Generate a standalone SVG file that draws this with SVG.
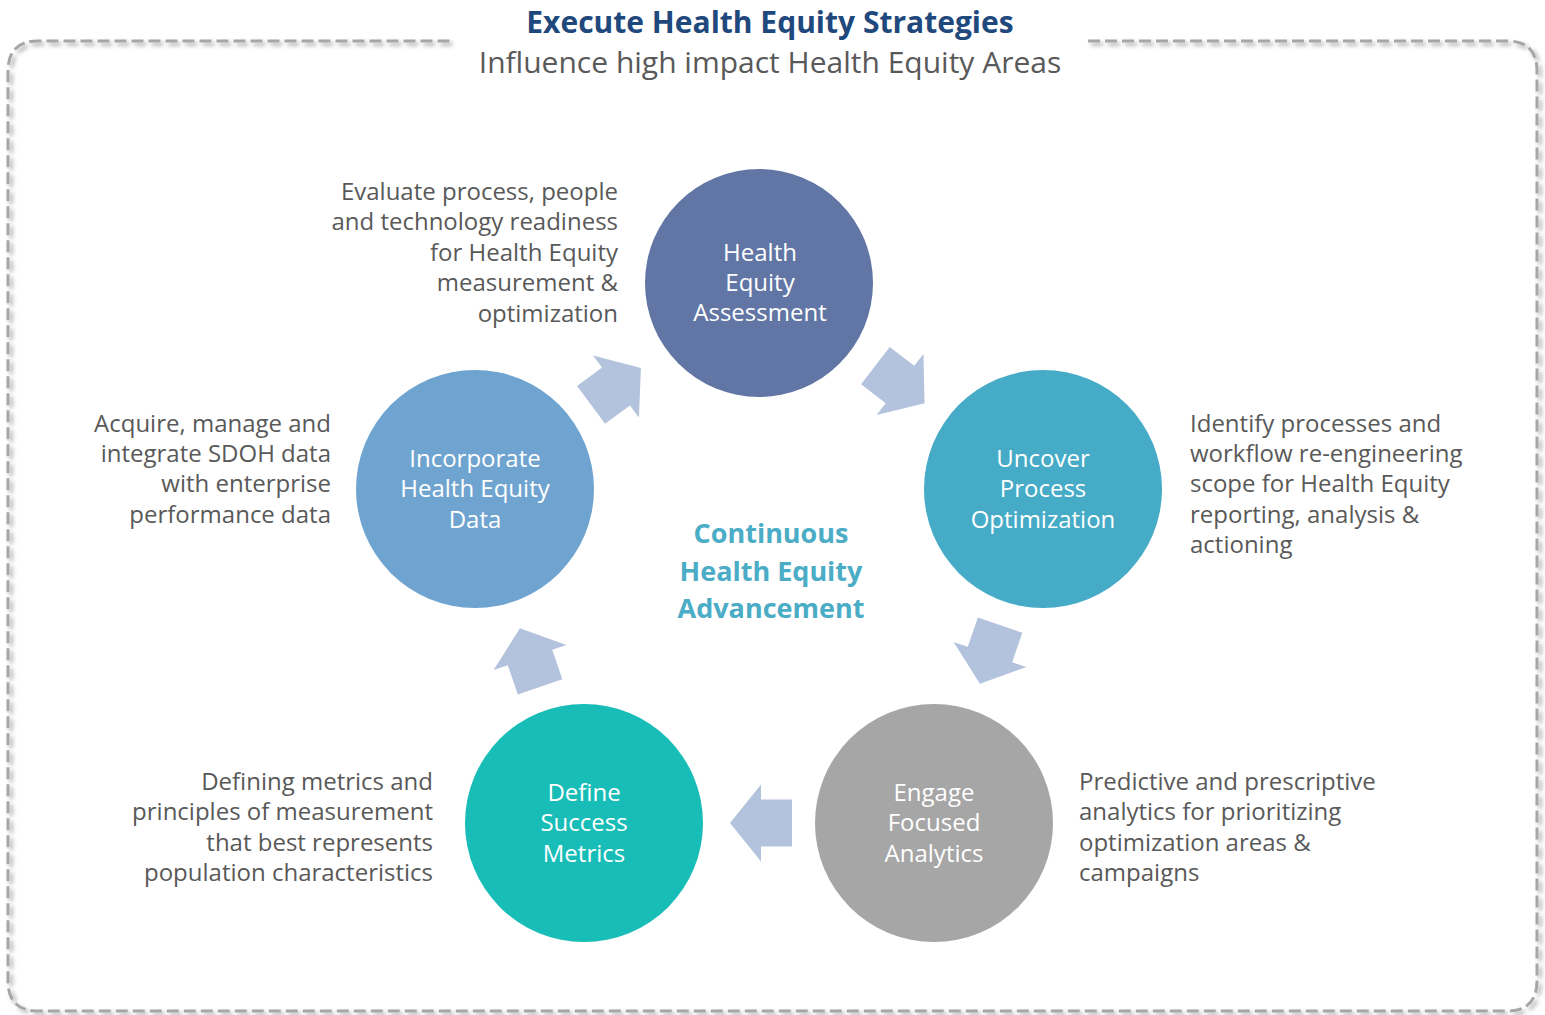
<svg xmlns="http://www.w3.org/2000/svg" width="1545" height="1015" viewBox="0 0 1545 1015">
<style>
.ttl{font-family:"Open Sans","Noto Sans","Liberation Sans",sans-serif;font-weight:700;font-size:30px;fill:#1f497d}
.sub{font-family:"Open Sans","Noto Sans","Liberation Sans",sans-serif;font-size:30px;fill:#595959}
.desc{font-family:"Open Sans","Noto Sans","Liberation Sans",sans-serif;font-size:24px;fill:#595959}
.r{text-anchor:end}
.l{text-anchor:start}
.ct{font-family:"Open Sans","Noto Sans","Liberation Sans",sans-serif;font-size:24px;fill:#ffffff;text-anchor:middle}
.mid{font-family:"Open Sans","Noto Sans","Liberation Sans",sans-serif;font-weight:700;font-size:27px;fill:#4bacc6;text-anchor:middle}
.arrow{fill:#b3c3dd}
</style>
<defs>
<filter id="sh" x="-5%" y="-5%" width="110%" height="110%">
<feDropShadow dx="3" dy="3" stdDeviation="2" flood-color="#000" flood-opacity="0.35"/>
</filter>
<path id="arr" d="M-31,-23.5 L0,-23.5 L0,-38.5 L31,0 L0,38.5 L0,23.5 L-31,23.5 Z"/>
</defs>
<rect width="1545" height="1015" fill="#ffffff"/>
<g id="frame">
<path d="M1088,41 L1507,41 Q1537,41 1537,71 L1537,981 Q1537,1011 1507,1011 L38,1011 Q8,1011 8,981 L8,71 Q8,41 38,41 L452,41" fill="none" stroke="#a6a6a6" stroke-width="3" stroke-dasharray="12 5" filter="url(#sh)"/>
</g>
<g id="title">
<text class="ttl" x="770" y="33" text-anchor="middle">Execute Health Equity Strategies</text>
<text class="sub" x="770" y="73" text-anchor="middle">Influence high impact Health Equity Areas</text>
</g>
<g id="connectors">
<use href="#arr" class="arrow" transform="translate(616,386.5) rotate(-36.5)"/>
<use href="#arr" class="arrow" transform="translate(900,384.5) rotate(37.5)"/>
<use href="#arr" class="arrow" transform="translate(990,654.5) rotate(109)"/>
<use href="#arr" class="arrow" transform="translate(761,823) rotate(180)"/>
<use href="#arr" class="arrow" transform="translate(530,657.5) rotate(-109)"/>
</g>
<g id="node-assessment">
<circle cx="759" cy="283" r="114" fill="#6176a4"/>
<text class="ct" x="760" y="261">Health</text>
<text class="ct" x="760" y="291">Equity</text>
<text class="ct" x="760" y="321">Assessment</text>
</g>
<g id="node-uncover">
<circle cx="1043" cy="489" r="119" fill="#45abc6"/>
<text class="ct" x="1043" y="467">Uncover</text>
<text class="ct" x="1043" y="497">Process</text>
<text class="ct" x="1043" y="528">Optimization</text>
</g>
<g id="node-engage">
<circle cx="934" cy="823" r="119" fill="#a6a6a6"/>
<text class="ct" x="934" y="801">Engage</text>
<text class="ct" x="934" y="831">Focused</text>
<text class="ct" x="934" y="862">Analytics</text>
</g>
<g id="node-define">
<circle cx="584" cy="823" r="119" fill="#17bdb6"/>
<text class="ct" x="584" y="801">Define</text>
<text class="ct" x="584" y="831">Success</text>
<text class="ct" x="584" y="862">Metrics</text>
</g>
<g id="node-incorporate">
<circle cx="475" cy="489" r="119" fill="#70a4d0"/>
<text class="ct" x="475" y="467">Incorporate</text>
<text class="ct" x="475" y="497">Health Equity</text>
<text class="ct" x="475" y="528">Data</text>
</g>
<g id="center-label">
<text class="mid" x="771" y="543">Continuous</text>
<text class="mid" x="771" y="581">Health Equity</text>
<text class="mid" x="771" y="618">Advancement</text>
</g>
<g id="desc-assessment">
<text class="desc r" x="618" y="200">Evaluate process, people</text>
<text class="desc r" x="618" y="230">and technology readiness</text>
<text class="desc r" x="618" y="261">for Health Equity</text>
<text class="desc r" x="618" y="291">measurement &amp;</text>
<text class="desc r" x="618" y="322">optimization</text>
</g>
<g id="desc-incorporate">
<text class="desc r" x="331" y="432">Acquire, manage and</text>
<text class="desc r" x="331" y="462">integrate SDOH data</text>
<text class="desc r" x="331" y="492">with enterprise</text>
<text class="desc r" x="331" y="523">performance data</text>
</g>
<g id="desc-uncover">
<text class="desc l" x="1190" y="432">Identify processes and</text>
<text class="desc l" x="1190" y="462">workflow re-engineering</text>
<text class="desc l" x="1190" y="492">scope for Health Equity</text>
<text class="desc l" x="1190" y="523">reporting, analysis &amp;</text>
<text class="desc l" x="1190" y="553">actioning</text>
</g>
<g id="desc-define">
<text class="desc r" x="433" y="790">Defining metrics and</text>
<text class="desc r" x="433" y="820">principles of measurement</text>
<text class="desc r" x="433" y="851">that best represents</text>
<text class="desc r" x="433" y="881">population characteristics</text>
</g>
<g id="desc-engage">
<text class="desc l" x="1079" y="790">Predictive and prescriptive</text>
<text class="desc l" x="1079" y="820">analytics for prioritizing</text>
<text class="desc l" x="1079" y="851">optimization areas &amp;</text>
<text class="desc l" x="1079" y="881">campaigns</text>
</g>
</svg>
